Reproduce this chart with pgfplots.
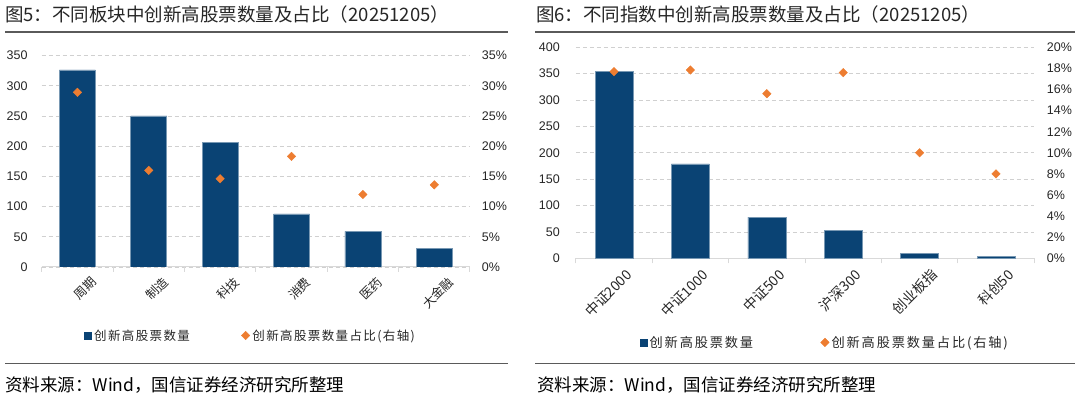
\documentclass[border=0pt]{standalone}
\usepackage{pgfplots}
\pgfplotsset{compat=1.18}
\usepackage{fontspec}
\setmainfont{Noto Sans CJK SC}
\newfontfamily\numfont{Liberation Sans}
\newfontfamily\legfontA[LetterSpace=11]{Noto Sans CJK SC}
\newfontfamily\legfontB[LetterSpace=14]{Noto Sans CJK SC}
\definecolor{barblue}{HTML}{0A4374}
\definecolor{mkorange}{HTML}{ED7D31}
\definecolor{axgray}{HTML}{D9D9D9}
\definecolor{gridgray}{HTML}{D0D0D0}
\definecolor{rulegray}{HTML}{5A5A5A}
\definecolor{txtgray}{HTML}{262626}

\pgfplotsset{
  base/.style={
    scale only axis,
    anchor=south west,
    xmin=-0.5, xmax=5.5,
    ymin=0,
    /pgf/number format/assume math mode=true,
    major tick length=0pt,
    axis line style={-},
    yticklabel style={font=\numfont\fontsize{12.5}{14}\selectfont, text=txtgray, inner sep=0pt},
  },
  barax/.style={
    base,
    axis x line*=bottom, axis y line*=left,
    y axis line style={draw=none},
    x axis line style={-, draw=axgray, line width=1pt},
    xtick={0,...,5},
    minor xtick={-0.5,0.5,...,5.5},
    minor tick length=5pt, tick align=outside,
    minor x tick style={draw=axgray, line width=1pt},
    xticklabel style={rotate=45, anchor=north east, text=txtgray, inner sep=0pt},
    ymajorgrids, grid style={gridgray, line width=0.8pt, dash pattern=on 4pt off 3pt},
  },
  pctax/.style={
    base,
    hide x axis,
    axis y line*=right,
    y axis line style={draw=none},
    yticklabel={\pgfmathprintnumber{\tick}\%},
    legend columns=2,
    legend cell align=left,
    legend image code/.code={\draw[mark repeat=2,mark phase=2,##1] plot coordinates {(0pt,0pt)(4pt,0pt)(8pt,0pt)};},
  },
}

\begin{document}
\begin{tikzpicture}
\path[use as bounding box] (0,0) rectangle (1080pt,393pt);

% ---------- Panel 1 ----------
\node[anchor=west, text=txtgray, inner sep=0pt, font=\fontsize{18.5}{20}\selectfont] at (5pt,378.5pt) {图5：不同板块中创新高股票数量及占比（20251205）};
\draw[rulegray, line width=1.5pt] (5pt,361pt) -- (508pt,361pt);
\draw[rulegray, line width=1.5pt] (5pt,29.5pt) -- (508pt,29.5pt);
\node[anchor=west, text=black, inner sep=0pt, font=\fontsize{17.5}{19}\selectfont] at (5pt,8pt) {资料来源：Wind，国信证券经济研究所整理};

\begin{axis}[barax,
  at={(41.7pt,126pt)}, width=428.3pt, height=211.5pt,
  ymax=350, ytick={0,50,...,350},
  xticklabels={周期,制造,科技,消费,医药,大金融},
  xticklabel style={font=\fontsize{12.5}{14}\selectfont, yshift=-15pt, xshift=3pt},
  yticklabel style={xshift=-14pt},
]
\addplot[ybar, bar width=36pt, fill=barblue, draw=barblue!55!white, line width=0.6pt]
  coordinates {(0,326)(1,250)(2,206)(3,88)(4,59)(5,31)};
\end{axis}

\begin{axis}[pctax,
  at={(41.7pt,126pt)}, width=428.3pt, height=211.5pt,
  ymax=35, ytick={0,5,...,35},
  yticklabel style={anchor=west, xshift=11.7pt},
  legend style={at={(0.0999,-0.3239)}, anchor=west, draw=none, fill=none,
    inner sep=0pt, outer sep=0pt, nodes={inner sep=2.5pt},
    font=\legfontA\fontsize{12.5}{14}\selectfont, text=txtgray,
    /tikz/every even column/.append style={column sep=49pt}},
]
\addlegendimage{only marks, mark=square*, mark size=3.6pt, mark options={fill=barblue, draw=barblue}}
\addlegendentry{创新高股票数量}
\addplot[only marks, mark=square*, mark size=3pt, mark options={rotate=45, fill=mkorange, draw=mkorange}]
  coordinates {(0,28.9)(1,16.0)(2,14.6)(3,18.3)(4,12.0)(5,13.6)};
\addlegendentry{创新高股票数量占比(右轴)}
\end{axis}

% ---------- Panel 2 ----------
\node[anchor=west, text=txtgray, inner sep=0pt, font=\fontsize{18.5}{20}\selectfont] at (536pt,378.5pt) {图6：不同指数中创新高股票数量及占比（20251205）};
\draw[rulegray, line width=1.5pt] (535pt,361pt) -- (1075pt,361pt);
\draw[rulegray, line width=1.5pt] (535pt,29.5pt) -- (1075pt,29.5pt);
\node[anchor=west, text=black, inner sep=0pt, font=\fontsize{17.5}{19}\selectfont] at (537pt,8pt) {资料来源：Wind，国信证券经济研究所整理};

\begin{axis}[barax,
  at={(575.8pt,134.7pt)}, width=458.4pt, height=211pt,
  ymax=400, ytick={0,50,...,400},
  xticklabels={中证2000,中证1000,中证500,沪深300,创业板指,科创50},
  xticklabel style={font=\fontsize{14}{16}\selectfont, yshift=-14pt, xshift=1pt},
  yticklabel style={xshift=-15.8pt},
]
\addplot[ybar, bar width=38pt, fill=barblue, draw=barblue!55!white, line width=0.6pt]
  coordinates {(0,354)(1,179)(2,78)(3,53)(4,10)(5,4)};
\end{axis}

\begin{axis}[pctax,
  at={(575.8pt,134.7pt)}, width=458.4pt, height=211pt,
  ymax=20, ytick={0,2,...,20},
  yticklabel style={anchor=west, xshift=12.5pt},
  legend style={at={(0.140,-0.3986)}, anchor=west, draw=none, fill=none,
    inner sep=0pt, outer sep=0pt, nodes={inner sep=2.5pt},
    font=\legfontB\fontsize{13.2}{15}\selectfont, text=txtgray,
    /tikz/every even column/.append style={column sep=65pt}},
]
\addlegendimage{only marks, mark=square*, mark size=3.6pt, mark options={fill=barblue, draw=barblue}}
\addlegendentry{创新高股票数量}
\addplot[only marks, mark=square*, mark size=3pt, mark options={rotate=45, fill=mkorange, draw=mkorange}]
  coordinates {(0,17.7)(1,17.85)(2,15.6)(3,17.6)(4,10.0)(5,8.0)};
\addlegendentry{创新高股票数量占比(右轴)}
\end{axis}
\end{tikzpicture}
\end{document}
